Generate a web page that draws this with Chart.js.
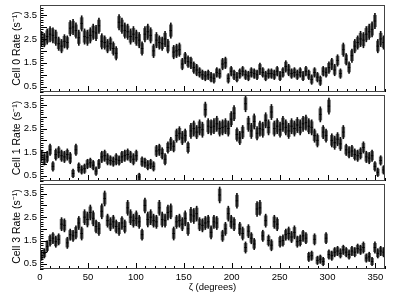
<!DOCTYPE html>
<html>
<head>
<meta charset="utf-8">
<script src="https://cdn.jsdelivr.net/npm/chart.js@4/dist/chart.umd.min.js"></script>
<style>
  body { margin: 0; background: #fff; }
  #wrap { position: relative; width: 411px; height: 297px; }
  canvas { position: absolute; left: 0; }
</style>
</head>
<body>
<div id="wrap">
  <canvas id="c0" width="411" height="97" style="top:0px"></canvas>
  <canvas id="c1" width="411" height="96" style="top:90px"></canvas>
  <canvas id="c3" width="411" height="118" style="top:179px"></canvas>
</div>
<script>
// bin centres in zeta (3 degree bins)
const zeta = Array.from({ length: 120 }, (_, i) => 1.5 + 3 * i);

const xTicks = [0, 50, 100, 150, 200, 250, 300, 350];
const yTicks = [0.5, 1, 1.5, 2, 2.5, 3, 3.5];

// Cell 0 rate (s^-1)
const cell0 = [
  2.5, 2.45, 2.6, 2.7, 2.65, 2.55, 2.3, 2.2, 2.4, 2.35,
  2.95, 3.0, 2.85, 2.55, 3.15, 2.6, 2.55, 2.65, 2.8, 2.75,
  3.05, 2.4, 2.35, 2.2, 2.3, 2.1, 1.9, 3.2, 3.05, 2.85,
  2.8, 2.6, 2.7, 2.55, 2.45, 2.1, 2.7, 2.8, 2.65, 2.0,
  2.45, 2.35, 2.3, 2.5, 2.2, 2.85, 1.95, 2.0, 2.05, 1.45,
  1.7, 1.55, 1.5, 1.3, 1.2, 1.1, 1.0, 0.95, 1.0, 0.9,
  0.85, 1.1, 1.05, 1.45, 1.5, 0.85, 1.15, 1.0, 0.9, 1.05,
  1.15, 1.0, 0.95, 1.1, 1.05, 1.0, 1.25, 1.1, 0.95, 1.05,
  1.05, 1.0, 1.15, 0.95, 1.1, 1.35, 1.2, 1.05, 1.1, 1.0,
  1.1, 0.95, 1.15, 1.0, 0.8, 1.1, 0.9, 0.75, 1.15, 1.1,
  1.3, 1.45, 1.2, 1.6, 1.05, 2.05, 1.65, 1.3, 1.8, 2.2,
  2.35, 2.5, 2.45, 2.7, 2.8, 2.9, 3.25, 2.2, 2.5, 2.35
];
const err0 = [
  .32, .28, .32, .32, .32, .32, .28, .28, .28, .28,
  .32, .32, .32, .32, .32, .32, .32, .32, .32, .32,
  .32, .32, .28, .28, .28, .28, .28, .32, .32, .32,
  .32, .32, .32, .32, .32, .28, .32, .32, .32, .28,
  .32, .28, .28, .32, .28, .32, .28, .28, .28, .24,
  .24, .24, .24, .24, .24, .2, .2, .2, .2, .2,
  .2, .2, .2, .24, .24, .2, .2, .2, .2, .2,
  .2, .2, .2, .2, .2, .2, .24, .2, .2, .2,
  .2, .2, .2, .2, .2, .24, .24, .2, .2, .2,
  .2, .2, .2, .2, .2, .2, .2, .2, .2, .2,
  .24, .24, .24, .24, .2, .28, .24, .24, .28, .28,
  .28, .32, .32, .32, .32, .32, .32, .28, .32, .28
];

// Cell 1 rate (s^-1)
const cell1 = [
  1.35, 1.2, 1.3, 1.6, 0.9, 1.4, 1.5, 1.35, 1.3, 1.4,
  1.25, 0.6, 1.6, 0.85, 0.75, 0.8, 1.0, 1.05, 0.95, 0.7,
  1.0, 1.3, 1.35, 1.2, 1.15, 1.1, 1.2, 1.15, 1.3, 1.35,
  1.4, 1.3, 1.2, 1.35, 0.45, 1.1, 1.05, 0.95, 1.0, 0.9,
  1.55, 1.6, 1.45, 1.2, 1.7, 1.85, 1.75, 2.2, 2.3, 2.1,
  2.2, 1.7, 2.4, 2.5, 2.35, 2.55, 2.45, 3.3, 2.6, 2.55,
  2.6, 2.7, 2.5, 2.55, 2.6, 2.5, 2.9, 3.15, 2.25, 2.1,
  2.35, 3.55, 2.7, 2.4, 2.8, 2.3, 2.5, 2.45, 2.85, 2.55,
  3.2, 2.5, 2.6, 2.45, 2.7, 2.55, 2.4, 2.6, 2.5, 2.65,
  2.55, 2.7, 2.75, 2.6, 2.55, 2.2, 2.0, 3.1, 2.35, 2.2,
  3.45, 2.0, 1.9, 2.05, 1.85, 2.35, 1.6, 1.5, 1.55, 1.4,
  1.35, 1.45, 1.7, 1.3, 1.25, 1.35, 0.9, 0.65, 1.15, 0.75
];
const err1 = [
  .24, .24, .24, .24, .2, .24, .24, .24, .24, .24,
  .24, .18, .24, .2, .18, .2, .2, .2, .2, .18,
  .2, .24, .24, .24, .2, .2, .24, .2, .24, .24,
  .24, .24, .24, .24, .16, .2, .2, .2, .2, .2,
  .24, .24, .24, .24, .24, .28, .24, .28, .28, .28,
  .28, .24, .32, .32, .28, .32, .32, .32, .32, .32,
  .32, .32, .32, .32, .32, .32, .32, .32, .28, .28,
  .28, .34, .32, .32, .32, .28, .32, .32, .32, .32,
  .32, .32, .32, .32, .32, .32, .32, .32, .32, .32,
  .32, .32, .32, .32, .32, .28, .28, .32, .28, .28,
  .34, .28, .28, .28, .28, .28, .24, .24, .24, .24,
  .24, .24, .24, .24, .24, .24, .2, .18, .2, .18
];

// Cell 3 rate (s^-1)
const cell3 = [
  0.85, 0.95, 1.25, 1.5, 1.6, 1.45, 1.55, 2.2, 2.15, 1.4,
  1.75, 1.7, 1.85, 2.25, 1.8, 2.5, 2.4, 2.7, 2.45, 2.1,
  2.0, 2.75, 3.3, 2.35, 2.2, 2.3, 2.1, 2.0, 2.25, 2.1,
  2.9, 2.5, 2.35, 2.45, 2.3, 1.75, 3.0, 2.4, 2.5, 2.35,
  2.3, 2.9, 2.4, 2.35, 2.7, 2.75, 1.8, 2.3, 2.35, 2.2,
  2.45, 2.0, 2.6, 2.55, 2.65, 2.2, 2.15, 2.25, 2.3, 1.85,
  2.3, 2.25, 3.45, 1.7, 2.0, 2.65, 2.3, 2.2, 3.2, 2.0,
  1.8, 1.2, 1.9, 1.6, 1.35, 2.85, 2.9, 1.7, 2.35, 1.5,
  1.3, 2.3, 2.2, 1.45, 1.5, 1.75, 1.8, 1.65, 1.85, 1.45,
  1.5, 1.7, 1.6, 0.8, 0.85, 1.55, 0.65, 0.7, 0.6, 1.6,
  0.9, 0.85, 1.0, 1.05, 0.95, 1.1, 1.0, 0.9, 1.05, 1.0,
  1.15, 1.1, 1.2, 0.75, 0.8, 0.6, 1.2, 0.95, 1.05, 1.0
];
const err3 = [
  .2, .2, .24, .24, .24, .24, .24, .28, .28, .24,
  .24, .24, .28, .28, .28, .32, .32, .32, .32, .28,
  .28, .32, .32, .28, .28, .28, .28, .28, .28, .28,
  .32, .32, .28, .32, .28, .24, .32, .32, .32, .28,
  .28, .32, .32, .28, .32, .32, .28, .28, .28, .28,
  .32, .28, .32, .32, .32, .28, .28, .28, .28, .28,
  .28, .28, .34, .24, .28, .32, .28, .28, .32, .28,
  .28, .24, .28, .24, .24, .32, .32, .24, .28, .24,
  .24, .28, .28, .24, .24, .24, .28, .24, .28, .24,
  .24, .24, .24, .2, .2, .24, .18, .18, .18, .24,
  .2, .2, .2, .2, .2, .2, .2, .2, .2, .2,
  .2, .2, .24, .18, .2, .18, .24, .2, .2, .2
];

const FONT = 'Liberation Sans';

// ROOT style frame with inward ticks
const rootFrame = {
  id: 'rootFrame',
  afterDatasetsDraw(chart) {
    const { ctx, chartArea: a, scales: { x, y } } = chart;
    ctx.save();
    ctx.strokeStyle = '#000';
    ctx.lineWidth = 1;
    ctx.beginPath();
    for (let v = 0; v <= 360; v += 10) {
      const px = Math.round(x.getPixelForValue(v)) + 0.5;
      const len = v % 50 === 0 ? 6 : 3;
      ctx.moveTo(px, a.bottom);
      ctx.lineTo(px, a.bottom - len);
    }
    for (let k = Math.ceil(y.min * 10); k <= Math.floor(y.max * 10); k++) {
      const py = Math.round(y.getPixelForValue(k / 10)) + 0.5;
      const len = k % 5 === 0 ? 7 : 3.5;
      ctx.moveTo(a.left, py);
      ctx.lineTo(a.left + len, py);
    }
    ctx.stroke();
    ctx.strokeStyle = '#444';
    ctx.strokeRect(Math.round(a.left) + 0.5, Math.round(a.top) + 0.5,
      Math.round(a.width) - 1, Math.round(a.height) - 1);
    ctx.restore();
  }
};

function panel(id, vals, errs, label, showX, pad) {
  const datasets = [
    {
      type: 'scatter',
      data: vals.map((v, i) => ({ x: zeta[i], y: v })),
      pointStyle: 'line',
      radius: 1.2,
      borderColor: '#000',
      borderWidth: 1,
      order: 0
    },
    {
      type: 'bar',
      data: vals.map((v, i) => ({ x: zeta[i], y: [v - errs[i], v + errs[i]] })),
      backgroundColor: '#111',
      barThickness: 1,
      grouped: false,
      order: 1
    },
    {
      type: 'bar',
      data: vals.map((v, i) => ({ x: zeta[i], y: [v - 0.75 * errs[i], v + 0.75 * errs[i]] })),
      backgroundColor: '#6a6a6a',
      barThickness: 3,
      grouped: false,
      order: 2
    }
  ];

  return new Chart(document.getElementById(id), {
    type: 'bar',
    data: { datasets },
    options: {
      responsive: false,
      animation: false,
      layout: { padding: pad },
      plugins: { legend: { display: false }, tooltip: { enabled: false } },
      scales: {
        x: {
          type: 'linear',
          min: 0,
          max: 360,
          offset: false,
          display: showX,
          afterBuildTicks: s => { s.ticks = xTicks.map(v => ({ value: v })); },
          grid: { display: false, drawTicks: false, offset: false },
          border: { display: false },
          ticks: { color: '#000', font: { family: FONT, size: 9.5 }, padding: 3, maxRotation: 0, autoSkip: false },
          title: { display: true, text: 'ζ (degrees)', color: '#000', font: { family: FONT, size: 9.5 } },
          afterFit: s => { s.height = showX ? 28 : 0; s.paddingLeft = 0; s.paddingRight = 0; }
        },
        y: {
          min: 0.28,
          max: 3.92,
          afterBuildTicks: s => { s.ticks = yTicks.map(v => ({ value: v })); },
          grid: { display: false, drawTicks: false },
          border: { display: false },
          ticks: { color: '#000', font: { family: FONT, size: 9.5 }, padding: 3 },
          title: { display: true, text: label, color: '#000', font: { family: FONT, size: 10.5 }, padding: { top: 11, bottom: 0 } },
          afterFit: s => { s.width = 40; s.paddingTop = 0; s.paddingBottom = 0; }
        }
      }
    },
    plugins: [rootFrame]
  });
}

panel('c0', cell0, err0, 'Cell 0 Rate (s⁻¹)', false, { top: 5, right: 26, bottom: 2, left: 0 });
panel('c1', cell1, err1, 'Cell 1 Rate (s⁻¹)', false, { top: 5, right: 26, bottom: 2, left: 0 });
panel('c3', cell3, err3, 'Cell 3 Rate (s⁻¹)', true, { top: 5, right: 26, bottom: 0, left: 0 });
</script>
</body>
</html>
